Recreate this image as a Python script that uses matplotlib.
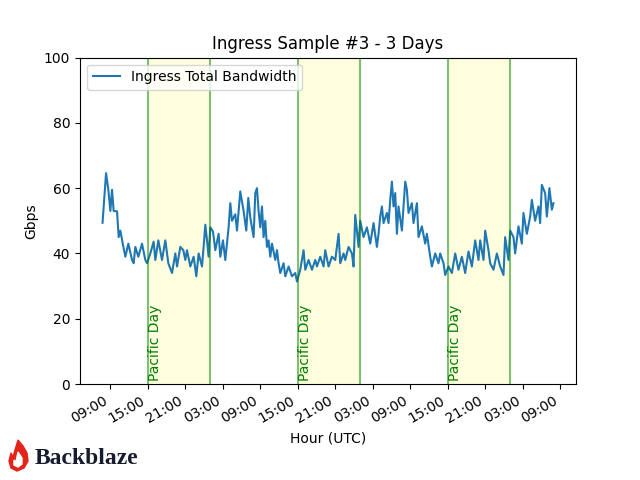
import datetime as dt

import matplotlib
matplotlib.use("Agg")
import matplotlib.dates as mdates
import matplotlib.pyplot as plt
from matplotlib.patches import Polygon

# hours since 00:00 UTC of day 1
hours = [
    7.75, 8.31, 8.68, 9.0, 9.27, 9.53, 10.07, 10.33, 10.6, 11.08, 11.4, 11.88,
    12.47, 12.73, 13.0, 13.48, 14.07, 14.6, 14.87, 15.4, 15.93, 16.2, 16.68,
    17.27, 17.8, 18.28, 18.87, 19.4, 19.67, 20.2, 20.68, 21.0, 21.27, 21.8,
    22.33, 22.76, 23.13, 23.67, 23.93, 24.2, 24.47, 24.73, 25.0, 25.43, 25.8,
    26.33, 26.6, 27.03, 27.4, 27.93, 28.2, 28.47, 29.0, 29.27, 29.8, 30.33,
    30.76, 31.08, 31.4, 31.93, 32.2, 32.47, 32.73, 33.0, 33.27, 33.53, 33.8,
    34.07, 34.33, 34.6, 34.87, 35.4, 35.67, 35.93, 36.2, 36.73, 37.0, 37.53,
    38.07, 38.6, 38.87, 39.4, 39.93, 40.2, 40.73, 41.27, 41.8, 42.07, 42.6,
    43.13, 43.4, 43.93, 44.47, 45.0, 45.53, 45.8, 46.33, 46.6, 47.13, 47.67,
    47.93, 48.2, 48.47, 48.73, 49.0, 49.53, 50.07, 50.6, 51.13, 51.67, 51.93,
    52.2, 52.47, 52.73, 53.27, 53.53, 53.8, 54.07, 54.33, 54.6, 54.87, 55.13,
    55.67, 56.2, 56.47, 56.73, 57.27, 57.53, 58.07, 58.33, 58.87, 59.4, 59.67,
    60.2, 60.47, 61.0, 61.53, 61.8, 62.33, 62.6, 63.13, 63.67, 64.2, 64.73,
    65.27, 65.8, 66.33, 66.87, 67.4, 67.93, 68.2, 68.73, 69.0, 69.53, 69.8,
    70.33, 70.87, 71.4, 71.93, 72.2, 72.73, 73.0, 73.53, 73.8, 74.33, 74.87,
    75.13, 75.67, 76.2, 76.47, 77.0, 77.53, 77.8, 78.07, 78.6, 78.87, 79.29,
    79.67, 79.93,
]
gbps = [
    49.4, 64.6, 59.5, 53, 59.5, 53, 52.9, 45, 47, 42, 39, 43,
    38, 37, 42, 39, 43, 38, 37, 40, 43.6, 38, 44,
    38, 44, 37, 34, 40, 36, 42, 41, 38, 41, 36,
    39, 33, 40, 36, 42, 48.8, 44, 39, 48, 46.7, 41,
    46, 39, 44, 38, 48, 55.4, 50, 52, 47, 59, 53,
    47, 57, 51, 45, 58.5, 60, 53, 48, 54.4, 45, 50,
    42, 44, 39, 43, 38, 41, 37, 34, 37, 33, 36,
    33, 34, 31.4, 35, 41, 35, 38, 35, 38, 36, 39,
    36, 41, 36, 39, 38, 46, 37, 40, 38, 42, 40,
    36, 51.8, 47, 42, 50, 45, 48, 43, 49.3, 42, 46,
    51.3, 54.4, 49.3, 52.4, 49.3, 56.4, 62, 54.4, 58.5, 46, 54.4,
    47, 62, 59.5, 52.4, 55.4, 49.3, 55.4, 45, 48.3, 43, 46,
    39, 36, 40, 37, 40, 37, 33.4, 36, 34, 40, 35,
    39, 34, 40.6, 36, 44, 38, 44, 38, 47, 41, 37,
    35, 40, 36, 33.4, 45, 38, 47, 45, 40, 48.3, 43,
    52.4, 46, 51.3, 56.4, 50, 54.4, 49.3, 61, 58.5, 51.3, 60,
    53.4, 55.4,
]

# Pacific business day in UTC: 15:00 -> 01:00 next day
day_starts = [15, 39, 63]
day_length = 10

base = dt.datetime(2023, 6, 5)
times = [base + dt.timedelta(hours=h) for h in hours]

fig, ax = plt.subplots(figsize=(6.4, 4.8), dpi=100)
ax.plot(times, gbps, label="Ingress Total Bandwidth", linewidth=1.5)

for start in day_starts:
    t0 = base + dt.timedelta(hours=start)
    t1 = t0 + dt.timedelta(hours=day_length)
    ax.axvspan(t0, t1, color="lightyellow", zorder=0)
    ax.axvline(t0, color="green", alpha=0.5)
    ax.axvline(t1, color="green", alpha=0.5)
    ax.text(t0, 1, "Pacific Day", rotation=90, color="green",
            ha="left", va="bottom")

ax.set_ylim(0, 100)
ax.set_title("Ingress Sample #3 - 3 Days")
ax.set_ylabel("Gbps")
ax.set_xlabel("Hour (UTC)")
ax.xaxis.set_major_locator(mdates.HourLocator(byhour=[3, 9, 15, 21]))
ax.xaxis.set_major_formatter(mdates.DateFormatter("%H:%M"))
ax.legend(loc="upper left")
fig.autofmt_xdate()

# Backblaze logo
flame = [(18, 440), (23, 446), (27, 453), (28, 461), (24, 468), (17, 471),
         (11, 468), (9, 461), (11, 453), (13, 457), (15, 450)]
inner = [(18, 452), (22, 458), (22, 464), (18, 467), (14, 465), (14, 460),
         (16, 462), (17, 457)]
for pts, col in [(flame, "#e2231a"), (inner, "white")]:
    fig.patches.append(Polygon([(x / 640, 1 - y / 480) for x, y in pts],
                               closed=True, color=col,
                               transform=fig.transFigure, figure=fig))
fig.text(35 / 640, 1 - 458 / 480, "Backblaze", fontsize=17, fontweight="bold",
         family="Liberation Serif", color="#161c2d", va="center", ha="left")

fig.savefig("out.png", dpi=100)
